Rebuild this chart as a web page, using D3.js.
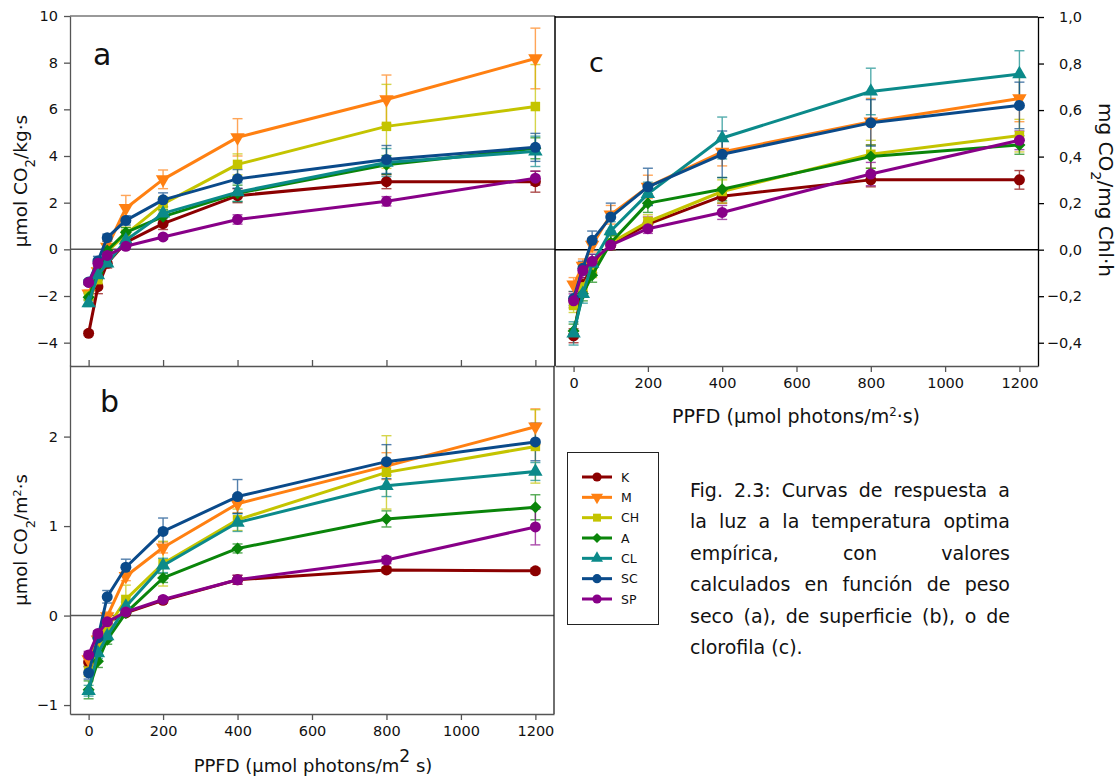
<!DOCTYPE html>
<html>
<head>
<meta charset="utf-8">
<script src="https://cdn.jsdelivr.net/npm/d3@7"></script>
<style>
  body { margin: 0; background: #fff; }
  svg { display: block; }
  text { font-family: "DejaVu Sans", sans-serif; fill: #111; }
</style>
</head>
<body>
<svg id="fig" width="1119" height="782"></svg>
<script>
// Light levels (PPFD, µmol photons / m²·s)
const ppfd = [0, 25, 50, 100, 200, 400, 800, 1200];

// Populations
const seriesNames = ["K", "M", "CH", "A", "CL", "SC", "SP"];
const seriesColors = ["#8b0000", "#ff8012", "#c4c400", "#0a850a", "#0b8a8a", "#0a4a8a", "#880088"];
const seriesSymbols = ["circle", "triangleDown", "square", "diamond", "triangleUp", "circle", "circle"];

// (a) per dry weight, µmol CO2 / kg·s  — one row per population
const massValues = [
  [-3.60, -1.60, -0.60, 0.30, 1.10, 2.30, 2.90, 2.90],
  [-1.90, -0.95, 0.10, 1.76, 3.00, 4.80, 6.42, 8.18],
  [-2.00, -1.30, -0.10, 0.65, 1.95, 3.64, 5.27, 6.12],
  [-2.05, -1.00, -0.05, 0.73, 1.40, 2.40, 3.62, 4.33],
  [-2.30, -1.10, -0.60, 0.39, 1.54, 2.45, 3.72, 4.20],
  [-1.40, -0.50, 0.50, 1.24, 2.12, 3.02, 3.85, 4.37],
  [-1.42, -0.60, -0.26, 0.13, 0.53, 1.28, 2.06, 3.05]
];
const massErrors = [
  [0.10, 0.30, 0.20, 0.15, 0.25, 0.30, 0.30, 0.45],
  [0.15, 0.20, 0.25, 0.55, 0.40, 0.80, 1.05, 1.30],
  [0.15, 0.20, 0.20, 0.30, 0.30, 0.45, 1.80, 1.80],
  [0.15, 0.15, 0.15, 0.20, 0.30, 0.35, 0.40, 0.45],
  [0.15, 0.20, 0.15, 0.20, 0.30, 0.40, 0.60, 0.65],
  [0.10, 0.20, 0.15, 0.20, 0.30, 0.40, 0.60, 0.60],
  [0.10, 0.15, 0.15, 0.10, 0.10, 0.20, 0.20, 0.30]
];
const massTicks = [-4, -2, 0, 2, 4, 6, 8, 10];

// (b) per leaf area, µmol CO2 / m²·s
const areaValues = [
  [-0.52, -0.23, -0.08, 0.03, 0.17, 0.40, 0.51, 0.50],
  [-0.49, -0.27, -0.01, 0.44, 0.76, 1.25, 1.67, 2.11],
  [-0.62, -0.38, -0.14, 0.18, 0.58, 1.07, 1.60, 1.89],
  [-0.83, -0.51, -0.27, 0.03, 0.42, 0.75, 1.08, 1.21],
  [-0.84, -0.42, -0.23, 0.10, 0.56, 1.04, 1.45, 1.61],
  [-0.64, -0.25, 0.21, 0.54, 0.94, 1.33, 1.72, 1.94],
  [-0.44, -0.20, -0.07, 0.04, 0.18, 0.40, 0.62, 0.99]
];
const areaErrors = [
  [0.05, 0.04, 0.03, 0.02, 0.03, 0.05, 0.03, 0.03],
  [0.05, 0.05, 0.05, 0.05, 0.06, 0.10, 0.15, 0.20],
  [0.06, 0.06, 0.06, 0.16, 0.25, 0.12, 0.41, 0.41],
  [0.10, 0.07, 0.05, 0.03, 0.05, 0.05, 0.09, 0.14],
  [0.06, 0.06, 0.05, 0.05, 0.08, 0.10, 0.12, 0.10],
  [0.07, 0.05, 0.07, 0.09, 0.15, 0.19, 0.19, 0.21],
  [0.04, 0.03, 0.03, 0.02, 0.03, 0.05, 0.04, 0.20]
];
const areaTicks = [-1, 0, 1, 2];

// (c) per chlorophyll, mg CO2 / mg Chl·h
const chlValues = [
  [-0.37, -0.15, -0.07, 0.02, 0.11, 0.23, 0.30, 0.30],
  [-0.15, -0.07, 0.02, 0.15, 0.27, 0.42, 0.55, 0.65],
  [-0.24, -0.16, -0.09, 0.03, 0.12, 0.25, 0.41, 0.49],
  [-0.35, -0.19, -0.11, 0.03, 0.20, 0.26, 0.40, 0.45],
  [-0.36, -0.19, -0.06, 0.08, 0.24, 0.48, 0.68, 0.755],
  [-0.21, -0.08, 0.04, 0.14, 0.27, 0.41, 0.545, 0.62],
  [-0.22, -0.09, -0.05, 0.02, 0.09, 0.16, 0.325, 0.47]
];
const chlErrors = [
  [0.03, 0.03, 0.03, 0.02, 0.03, 0.03, 0.03, 0.04],
  [0.03, 0.03, 0.03, 0.04, 0.05, 0.06, 0.10, 0.10],
  [0.03, 0.03, 0.03, 0.03, 0.03, 0.05, 0.06, 0.07],
  [0.03, 0.03, 0.03, 0.03, 0.04, 0.05, 0.05, 0.04],
  [0.05, 0.04, 0.04, 0.04, 0.05, 0.09, 0.10, 0.10],
  [0.03, 0.03, 0.04, 0.06, 0.08, 0.10, 0.10, 0.10],
  [0.03, 0.03, 0.03, 0.02, 0.02, 0.03, 0.05, 0.04]
];
const chlTicks = [-0.4, -0.2, 0.0, 0.2, 0.4, 0.6, 0.8, 1.0];

const ppfdTicks = [0, 200, 400, 600, 800, 1000, 1200];

const captionLines = [
  "Fig. 2.3: Curvas de respuesta a",
  "la luz a la temperatura optima",
  "empírica, con valores",
  "calculados en función de peso",
  "seco (a), de superficie (b), o de",
  "clorofila (c)."
];

const svg = d3.select("#fig");

// ---------- scales ----------
const xA = d3.scaleLinear().domain([-50, 1250]).range([70, 554]);
const yA = d3.scaleLinear().domain([-5, 10]).range([366, 16]);
const yB = d3.scaleLinear().domain([-1.1, 2.8]).range([714, 365]);
const xC = d3.scaleLinear().domain([-50, 1250]).range([555, 1038]);
const yC = d3.scaleLinear().domain([-0.5, 1.0]).range([366, 17]);

const comma = d3.formatLocale({decimal: ",", thousands: ".", grouping: [3], currency: ["", ""], minus: "\u2212"});
const fmtC = comma.format(".1f");
const fmtInt = d3.format("d");

const GRAY = "#555";

function symbolPath(kind, scale) {
  const s = scale || 1;
  switch (kind) {
    case "circle": return d3.symbol(d3.symbolCircle, 95 * s)();
    case "square": return d3.symbol(d3.symbolSquare, 90 * s)();
    case "triangleUp": return d3.symbol(d3.symbolTriangle, 90 * s)();
    case "triangleDown": return d3.symbol(d3.symbolTriangle, 90 * s)();
    case "diamond": return d3.symbol(d3.symbolSquare, 72 * s)();
  }
}
function symbolRotate(kind) {
  if (kind === "triangleDown") return 180;
  if (kind === "diamond") return 45;
  return 0;
}

function styleAxis(g, color) {
  g.selectAll("path.domain").attr("stroke", color).attr("stroke-width", 1.3);
  g.selectAll(".tick line").attr("stroke", color).attr("stroke-width", 1.3);
  g.selectAll(".tick text").attr("font-size", 14.5).attr("fill", "#222")
    .attr("font-family", "DejaVu Sans, sans-serif");
}

// ---------- series drawing ----------
function drawSeries(root, x, y, values, errors) {
  const g = root.append("g");
  // error bars behind lines
  values.forEach((row, si) => {
    const col = seriesColors[si];
    const eb = g.append("g").attr("stroke", col).attr("stroke-width", 1.4).attr("opacity", 0.7);
    row.forEach((v, i) => {
      const e = errors[si][i];
      const cx = x(ppfd[i]);
      eb.append("line").attr("x1", cx).attr("x2", cx).attr("y1", y(v - e)).attr("y2", y(v + e));
      eb.append("line").attr("x1", cx - 5).attr("x2", cx + 5).attr("y1", y(v - e)).attr("y2", y(v - e));
      eb.append("line").attr("x1", cx - 5).attr("x2", cx + 5).attr("y1", y(v + e)).attr("y2", y(v + e));
    });
  });
  const line = d3.line().x((d, i) => x(ppfd[i])).y(d => y(d));
  values.forEach((row, si) => {
    const col = seriesColors[si];
    g.append("path").datum(row).attr("d", line)
      .attr("fill", "none").attr("stroke", col).attr("stroke-width", 3).attr("stroke-linejoin", "round");
    g.selectAll(null).data(row).enter().append("path")
      .attr("d", symbolPath(seriesSymbols[si]))
      .attr("transform", (d, i) => `translate(${x(ppfd[i])},${y(d)}) rotate(${symbolRotate(seriesSymbols[si])})`)
      .attr("fill", col);
  });
}

// ---------- panel a ----------
svg.append("line").attr("x1", 70).attr("x2", 555).attr("y1", yA(0)).attr("y2", yA(0))
  .attr("stroke", GRAY).attr("stroke-width", 1.5);
svg.append("line").attr("x1", 70).attr("x2", 555).attr("y1", 16).attr("y2", 16)
  .attr("stroke", "#777").attr("stroke-width", 1.5);
const axA = svg.append("g").attr("transform", "translate(70,0)")
  .call(d3.axisLeft(yA).tickValues(massTicks).tickSize(6).tickSizeOuter(0).tickPadding(6).tickFormat(fmtInt));
styleAxis(axA, GRAY);
const axAx = svg.append("g").attr("transform", "translate(0,366)")
  .call(d3.axisTop(xA).tickValues(ppfdTicks).tickSize(6).tickSizeOuter(0).tickFormat(""));
styleAxis(axAx, GRAY);
drawSeries(svg, xA, yA, massValues, massErrors);
svg.append("text").attr("x", 93).attr("y", 65).attr("font-size", 30).text("a");

// ---------- panel b ----------
svg.append("line").attr("x1", 70).attr("x2", 554).attr("y1", yB(0)).attr("y2", yB(0))
  .attr("stroke", GRAY).attr("stroke-width", 1.5);
svg.append("line").attr("x1", 554).attr("x2", 554).attr("y1", 366).attr("y2", 714)
  .attr("stroke", "#222").attr("stroke-width", 1.3);
const axB = svg.append("g").attr("transform", "translate(70,0)")
  .call(d3.axisLeft(yB).tickValues(areaTicks).tickSize(6).tickSizeOuter(0).tickPadding(6).tickFormat(fmtInt));
styleAxis(axB, GRAY);
const axBx = svg.append("g").attr("transform", "translate(0,714)")
  .call(d3.axisBottom(xA).tickValues(ppfdTicks).tickSize(6).tickSizeOuter(0).tickPadding(6).tickFormat(fmtInt));
styleAxis(axBx, GRAY);
drawSeries(svg, xA, yB, areaValues, areaErrors);
svg.append("text").attr("x", 100).attr("y", 412).attr("font-size", 30).text("b");

// ---------- panel c ----------
svg.append("line").attr("x1", 555).attr("x2", 1038).attr("y1", yC(0)).attr("y2", yC(0))
  .attr("stroke", "#000").attr("stroke-width", 1.5);
svg.append("line").attr("x1", 555).attr("x2", 1038).attr("y1", 17).attr("y2", 17)
  .attr("stroke", "#000").attr("stroke-width", 1.5);
svg.append("line").attr("x1", 555).attr("x2", 555).attr("y1", 16).attr("y2", 366)
  .attr("stroke", "#000").attr("stroke-width", 1.5);
const axC = svg.append("g").attr("transform", "translate(1038,0)")
  .call(d3.axisRight(yC).tickValues(chlTicks).tickSize(6).tickSizeOuter(0).tickPadding(6).tickFormat(fmtC));
styleAxis(axC, "#000");
axC.selectAll(".tick text").attr("text-anchor", "end").attr("x", 44);
const axCx = svg.append("g").attr("transform", "translate(0,366)")
  .call(d3.axisBottom(xC).tickValues(ppfdTicks).tickSize(6).tickSizeOuter(0).tickPadding(6).tickFormat(fmtInt));
styleAxis(axCx, GRAY);
drawSeries(svg, xC, yC, chlValues, chlErrors);
svg.append("text").attr("x", 589).attr("y", 72).attr("font-size", 27).text("c");

// ---------- axis titles ----------
function title(x, y, rot, parts, size) {
  const t = svg.append("text").attr("transform", `translate(${x},${y}) rotate(${rot})`)
    .attr("text-anchor", "middle").attr("font-size", size);
  parts.forEach(p => {
    const s = t.append("tspan").text(p.t);
    if (p.sub) s.attr("baseline-shift", "sub").attr("font-size", size * 0.72);
    if (p.sup) s.attr("baseline-shift", "super").attr("font-size", size * (p.big ? 0.95 : 0.62));
  });
  return t;
}
title(27, 181, -90, [{t: "\u00b5mol CO"}, {t: "2", sub: true}, {t: "/kg\u00b7s"}], 18.5);
title(27, 540, -90, [{t: "\u00b5mol CO"}, {t: "2", sub: true}, {t: "/m"}, {t: "2", sup: true}, {t: "\u00b7s"}], 18);
title(1099, 190, 90, [{t: "mg CO"}, {t: "2", sub: true}, {t: "/mg Chl\u00b7h"}], 20);
title(796, 423, 0, [{t: "PPFD (\u00b5mol photons/m"}, {t: "2", sup: true}, {t: "\u00b7s)"}], 19);
title(313, 772, 0, [{t: "PPFD (\u00b5mol photons/m"}, {t: "2", sup: true, big: true}, {t: " s)"}], 18);

// ---------- legend ----------
const leg = svg.append("g");
leg.append("rect").attr("x", 567.5).attr("y", 452.5).attr("width", 91).attr("height", 172)
  .attr("fill", "#fff").attr("stroke", "#222").attr("stroke-width", 1);
const legY = d3.scalePoint().domain(seriesNames).range([477, 599]);
seriesNames.forEach((n, i) => {
  const yy = legY(n);
  leg.append("line").attr("x1", 582).attr("x2", 612).attr("y1", yy).attr("y2", yy)
    .attr("stroke", seriesColors[i]).attr("stroke-width", 3);
  leg.append("path").attr("d", symbolPath(seriesSymbols[i], 0.7))
    .attr("transform", `translate(597,${yy}) rotate(${symbolRotate(seriesSymbols[i])})`)
    .attr("fill", seriesColors[i]);
  leg.append("text").attr("x", 621).attr("y", yy + 4.5).attr("font-size", 12.5).text(n);
});

// ---------- caption (justified block) ----------
const capLeft = 690, capRight = 1010, capTop = 497, capStep = 31.4, capSize = 19;
captionLines.forEach((ln, li) => {
  const yy = capTop + li * capStep;
  const words = ln.split(" ");
  const last = li === captionLines.length - 1;
  const g = svg.append("g");
  const nodes = words.map(w => g.append("text").attr("y", yy).attr("font-size", capSize).attr("fill", "#222").text(w));
  const widths = nodes.map(n => n.node().getComputedTextLength());
  const total = d3.sum(widths);
  const gap = last || words.length < 2 ? capSize * 0.32 : (capRight - capLeft - total) / (words.length - 1);
  let xx = capLeft;
  nodes.forEach((n, i) => { n.attr("x", xx); xx += widths[i] + gap; });
});
</script>
</body>
</html>
